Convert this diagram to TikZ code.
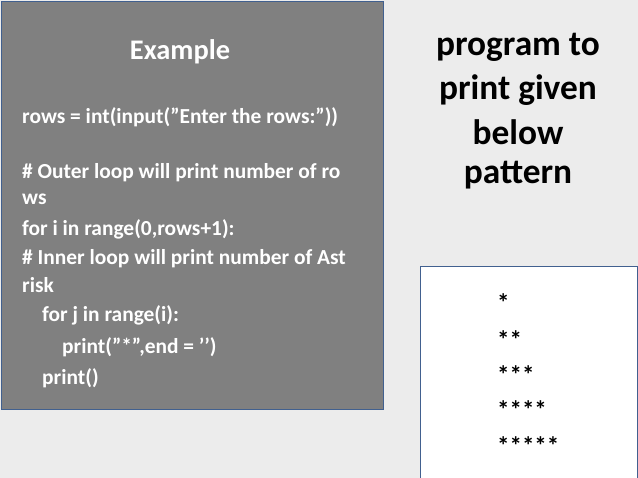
\documentclass[tikz,border=0pt]{standalone}
\usepackage{fontspec}
\setmainfont{Carlito}
\definecolor{bd}{HTML}{41608F}
\definecolor{bg}{HTML}{ECECEC}
\definecolor{bx}{HTML}{808080}
\newcommand{\dq}{\symbol{34}}
\newcommand{\sq}{\symbol{39}}
\begin{document}
\begin{tikzpicture}[x=1bp,y=-1bp,
  code/.style={anchor=west,text=white,font=\fontsize{21.5}{24}\selectfont\bfseries,inner sep=0},
  star/.style={anchor=west,text=black,font=\fontsize{25}{28}\selectfont\bfseries,inner sep=0},
  ttl/.style={text=black,font=\fontsize{35.5}{38}\selectfont\bfseries,inner sep=0}]
\fill[bg] (0,0) rectangle (638,478);
\useasboundingbox (0,0) rectangle (638,478);
\node[draw=bd,line width=1.2bp,fill=bx,minimum width=382bp,minimum height=408bp,anchor=north west,inner sep=0] (box) at (1,1) {};
\node[draw=bd,line width=1.2bp,fill=white,minimum width=217bp,minimum height=212bp,anchor=north west,inner sep=0] (out) at (420,266) {};
\node[text=white,font=\fontsize{28.5}{31}\selectfont\bfseries] (ex) at (180,52) {Example};
\node[code] (l1) at (22,117) {rows = int(input(\dq Enter the rows:\dq))};
\node[code] (l2) at (22,173) {\# Outer loop will print number of ro};
\node[code] (l3) at (22,199) {ws};
\node[code] (l4) at (22,229) {for i in range(0,rows+1):};
\node[code] (l5) at (22,259) {\# Inner loop will print number of Ast};
\node[code] (l6) at (22,285) {risk};
\node[code] (l7) at (42,315) {for j in range(i):};
\node[code] (l8) at (62,347) {print(\dq*\dq,end = \sq\sq)};
\node[code] (l9) at (42,378) {print()};
\node[ttl] (t1) at (518,47) {program to};
\node[ttl] (t2) at (518,90) {print given};
\node[ttl] (t3) at (518,132) {below};
\node[ttl] (t4) at (518,175) {pattern};
\node[star] (s1) at (497,303) {*};
\node[star] (s2) at (497,340) {**};
\node[star] (s3) at (497,375) {***};
\node[star] (s4) at (497,410) {****};
\node[star] (s5) at (497,446) {*****};
\end{tikzpicture}
\end{document}
